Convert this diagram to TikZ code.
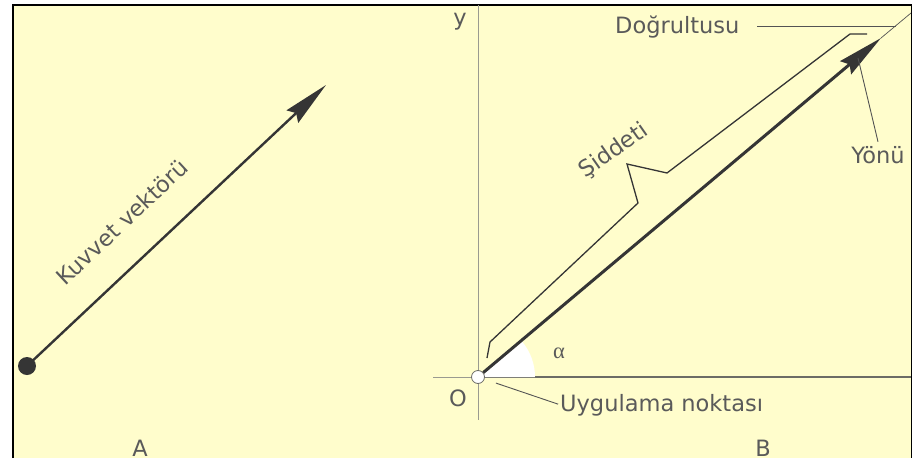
\documentclass[tikz,border=0pt]{standalone}
\usepackage{fontspec}
\setmainfont{DejaVu Sans}
\newfontfamily\greekserif{Liberation Serif}
\usepackage{tikz}
\usetikzlibrary{arrows.meta, positioning, calc}
\definecolor{paperyellow}{HTML}{FFFDCC}
\definecolor{inkgray}{HTML}{353535}
\definecolor{textgray}{HTML}{5A5A5A}
\definecolor{axisgray}{HTML}{9A9A90}

\begin{document}
\begin{tikzpicture}[
  x=1pt, y=-1pt,
  every node/.style={inner sep=0pt, font=\fontsize{22.5}{26}\selectfont, text=textgray},
  vector/.style={draw=inkgray, line width=2.6pt, -{Stealth[length=46pt, width=17pt, inset=5pt]}},
  thinline/.style={draw=inkgray!85, line width=0.9pt},
  axis/.style={draw=axisgray, line width=0.8pt}
]
% page and frame
\useasboundingbox (0,0) rectangle (913,458);
\fill[white] (0,0) rectangle (913,458);
\fill[paperyellow] (13,5) rectangle (912,458);
\draw[black, line width=1.3pt] (13,458) -- (13,5) -- (911.5,5) -- (911.5,458);

% A: force vector
\node[circle, fill=inkgray, minimum size=18pt] (start) at (27,366) {};
\coordinate (tipA) at (326,85);
\draw[vector, line width=2.4pt] (start.center) -- (tipA);
\node[rotate=43] (kuvvet) at (122,222) {Kuvvet vektörü};
\node[anchor=base] (labA) at (140,456) {A};

% B: axes
\draw[axis] (478,5) -- (478,420);
\draw[axis] (433,377) -- (478,377);
\draw[axis, draw=axisgray!70!black, line width=1.2pt] (478,377) -- (911,377);
\fill[white] (480,377) -- ++(55,0) arc[start angle=0, end angle=-40, radius=55] -- cycle;
\node (ylab) at (460,22) {y};
\node (olab) at (458,398) {O};
\node (alpha) at (559,353) {\greekserif α};

% B: vector with its parts
\node[circle, draw=axisgray!70!black, fill=white, line width=0.8pt, minimum size=13pt] (O) at (478,377) {};
\coordinate (tipB) at (881,38);
\coordinate (dirend) at (911,13);
\draw[thinline, line width=0.7pt] (tipB) -- (dirend);
\draw[vector, line width=3pt] (O) -- (tipB);

% Siddeti bracket
\draw[inkgray, line width=1.3pt, line join=miter]
  (487,358) -- (490,342) -- (638,203) -- (627,164) -- (667,173) -- (850,34) -- (867,34);
\node[rotate=35] (siddet) at (614,151) {Şiddeti};

% labels with leaders
\node[anchor=base west] (dogru) at (615,33) {Doğrultusu};
\coordinate (leadstart) at (757,26);
\coordinate (dirmeet) at (896,26);
\draw[thinline] (leadstart) -- (dirmeet);

\node[anchor=base] (yonu) at (878,163) {Yönü};
\coordinate (yonuhead) at (858,58);
\draw[thinline] (yonuhead) -- ([yshift=4pt]yonu.north);

\node[anchor=base west] (uyg) at (560,411) {Uygulama noktası};
\draw[thinline, shorten <=12pt, shorten >=2pt] (O) -- (uyg.west);

\node[anchor=base] (labB) at (763,456) {B};
\end{tikzpicture}
\end{document}
